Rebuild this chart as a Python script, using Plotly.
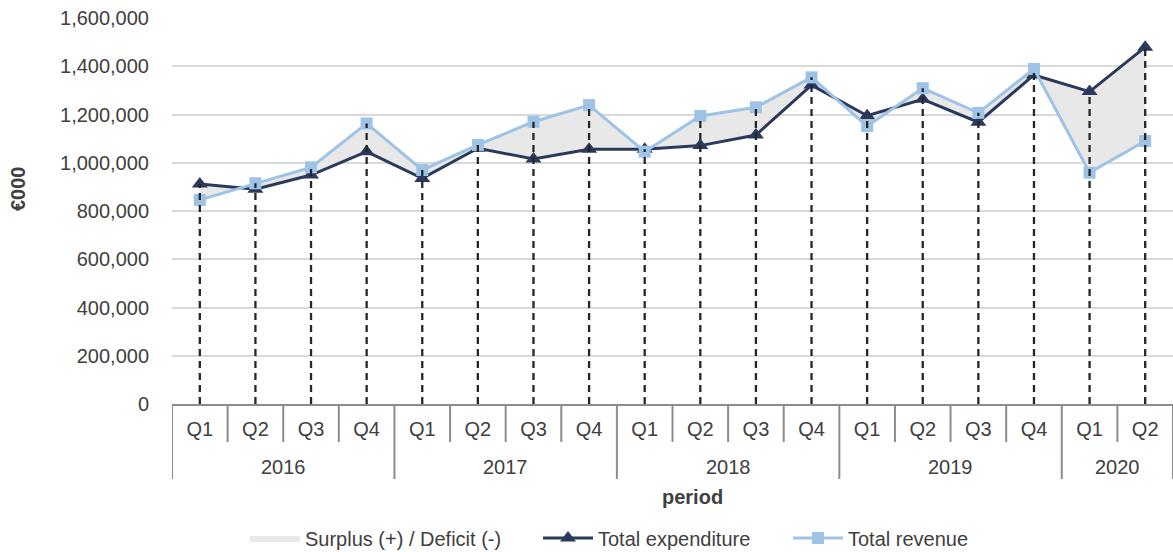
import plotly.graph_objects as go

years = ["2016"] * 4 + ["2017"] * 4 + ["2018"] * 4 + ["2019"] * 4 + ["2020"] * 2
quarters = ["Q1", "Q2", "Q3", "Q4"] * 4 + ["Q1", "Q2"]
expenditure = [912000, 890000, 949000, 1046000, 935000, 1060000, 1016000, 1056000,
               1056000, 1071000, 1115000, 1322000, 1195000, 1263000, 1168000, 1364000,
               1295000, 1479000]
revenue = [846000, 915000, 981000, 1163000, 970000, 1074000, 1170000, 1239000,
           1046000, 1194000, 1230000, 1354000, 1152000, 1309000, 1207000, 1389000,
           959000, 1090000]
y_ticks = [0, 200000, 400000, 600000, 800000, 1000000, 1200000, 1400000, 1600000]

FONT = "Liberation Sans, Arial, sans-serif"
TXT = "#404040"
EXP_C = "#2b3a5c"
REV_C = "#9dc3e6"
FILL_C = "#e8e8e8"
AX_C = "#8c8c8c"

# unique category ids, shown as quarter labels
cats = [f"{y} {q}" for y, q in zip(years, quarters)]
n = len(cats)

fig = go.Figure()
fig.add_trace(go.Scatter(x=cats, y=revenue, mode="lines", line=dict(width=0, color=FILL_C),
                         showlegend=False, hoverinfo="skip"))
fig.add_trace(go.Scatter(x=cats, y=expenditure, mode="lines", fill="tonexty", fillcolor=FILL_C,
                         line=dict(width=0, color=FILL_C), name="Surplus (+) / Deficit (-)",
                         legend="legend"))
fig.add_trace(go.Scatter(x=cats, y=expenditure, mode="lines+markers", name="Total expenditure",
                         line=dict(color=EXP_C, width=3), legend="legend2",
                         marker=dict(symbol="triangle-up", size=14, color=EXP_C)))
fig.add_trace(go.Scatter(x=cats, y=revenue, mode="lines+markers", name="Total revenue",
                         line=dict(color=REV_C, width=3), legend="legend3",
                         marker=dict(symbol="square", size=12, color=REV_C)))

# drop lines from the higher of the two values to zero
dx, dy = [], []
for c, e, r in zip(cats, expenditure, revenue):
    dx += [c, c, c]
    dy += [0, max(e, r), None]
fig.add_trace(go.Scatter(x=dx, y=dy, mode="lines", connectgaps=False,
                         line=dict(color="#262626", width=2.3, dash="7px,5px"),
                         showlegend=False, hoverinfo="skip"))

PLOT_H = 386.0
PLOT_W = 1001.0

shapes = []
annotations = []
# quarter separators and year dividers
for i in range(n + 1):
    b = i - 0.5
    is_year_edge = (i == 0 or i == n or years[i] != years[i - 1])
    depth = 75 if is_year_edge else 38
    shapes.append(dict(type="line", xref="x", yref="paper", x0=b, x1=b, y0=0,
                       y1=-depth / PLOT_H, line=dict(color=AX_C, width=2)))
# year labels
start = 0
for i in range(1, n + 1):
    if i == n or years[i] != years[start]:
        annotations.append(dict(text=years[start], xref="x", yref="paper",
                                x=(start + i - 1) / 2, y=-63 / PLOT_H, xanchor="center",
                                yanchor="middle", showarrow=False,
                                font=dict(size=20, color=TXT)))
        start = i

annotations.append(dict(text="<b>€000</b>", x=-154 / PLOT_W, y=(404 - 189) / PLOT_H,
                        xref="paper", yref="paper", xanchor="center", yanchor="middle",
                        textangle=-90, showarrow=False, font=dict(size=20, color=TXT)))
annotations.append(dict(text="<b>period</b>", x=(692 - 172) / PLOT_W, y=(404 - 497) / PLOT_H,
                        xref="paper", yref="paper", xanchor="center", yanchor="middle",
                        showarrow=False, font=dict(size=20, color=TXT)))

leg_common = dict(orientation="h", yanchor="middle", y=(404 - 538) / PLOT_H,
                  xanchor="left", font=dict(size=20, color=TXT), itemwidth=50,
                  bgcolor="rgba(0,0,0,0)")

fig.update_layout(
    width=1173, height=552,
    margin=dict(l=172, r=0, t=18, b=148, autoexpand=False),
    paper_bgcolor="white", plot_bgcolor="white",
    font=dict(family=FONT, size=20, color=TXT),
    legend=dict(leg_common, x=(245 - 172) / PLOT_W),
    legend2=dict(leg_common, x=(538 - 172) / PLOT_W),
    legend3=dict(leg_common, x=(788 - 172) / PLOT_W),
    shapes=shapes,
    annotations=annotations,
)
fig.update_yaxes(range=[0, 1600000], tickvals=y_ticks, tickformat=",d", showgrid=True,
                 gridcolor="#d9d9d9", gridwidth=1.5, zeroline=False, showline=False,
                 ticklabelstandoff=22, tickfont=dict(size=20, color=TXT))
fig.update_xaxes(type="category", range=[-0.5, n - 0.5], tickvals=cats, ticktext=quarters,
                 showline=True, linecolor=AX_C, linewidth=2, ticks="", showgrid=False,
                 ticklabelstandoff=6, tickfont=dict(size=20, color=TXT))

fig.write_html("out.html", config={"displayModeBar": False},
               post_script="document.body.style.margin='0';")
